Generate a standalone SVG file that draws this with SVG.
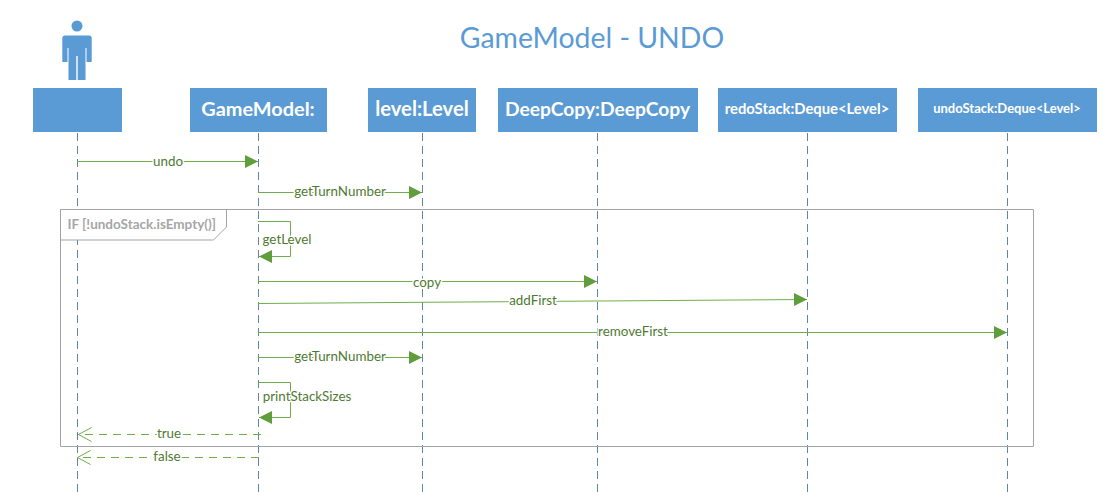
<svg xmlns="http://www.w3.org/2000/svg" width="1115" height="495" viewBox="0 0 1115 495">
<style>
text{font-family:Lato,"Open Sans","Liberation Sans",sans-serif}
.box{fill:#5b9bd5}
.nm{fill:#fff;font-weight:700;text-anchor:middle}
.life{stroke:#5f86a6;stroke-width:1;stroke-dasharray:8 5;fill:none}
.msg{stroke:#70ad47;stroke-width:1;fill:none}
.ret{stroke:#70ad47;stroke-width:1;fill:none;stroke-dasharray:8 6}
.lbl{fill:#4f7a33;font-size:13.4px;text-anchor:middle;paint-order:stroke;stroke:#fff;stroke-width:3px}
.frame{stroke:#a0a4a6;stroke-width:1;fill:none}
</style>
<defs>
<marker id="solid" markerUnits="userSpaceOnUse" markerWidth="13" markerHeight="14" refX="13" refY="7" orient="auto"><path d="M0 0L13 6.500L0 13Z" fill="#5f9e3a" transform="translate(0 .5)"/></marker>
<marker id="open" markerUnits="userSpaceOnUse" markerWidth="15" markerHeight="16" refX="14.500" refY="8" orient="auto"><path d="M1 1L14 8L1 15" fill="none" stroke="#70ad47"/></marker>
</defs>
<rect width="1115" height="495" fill="#fff"/>
<text x="592" y="48" font-size="28.400" fill="#5b9bd5" text-anchor="middle">GameModel - UNDO</text>
<g id="lifelines">
<path class="life" d="M77.500 133V495"/><path class="life" d="M258.500 133V495"/><path class="life" d="M422.500 133V495"/><path class="life" d="M597.500 133V495"/><path class="life" d="M807.500 133V495"/><path class="life" d="M1007.500 133V495"/>
</g>
<g id="frame">
<path class="frame" d="M60.500 209.500H1033.500V446.500H60.500Z"/>
<path d="M60.500 209.500H226.500V227L213.500 240H60.500Z" fill="#fff" stroke="#a0a4a6"/>
<text x="67.500" y="229" font-size="13.500" font-weight="700" fill="#a6a6a6">IF [!undoStack.isEmpty()]</text>
</g>
<g id="actor">
<circle cx="77" cy="26" r="5.500" class="box"/>
<path class="box" d="M65 35.500H89Q91.700 35.500 91.700 38V62H86.500V48H85.500V80H77.700V56H76.300V80H68.500V48H67.500V62H62.300V38Q62.300 35.500 65 35.500Z"/>
<rect class="box" x="33" y="88" width="89" height="44"/>
</g>
<g id="gamemodel"><rect class="box" x="190" y="88" width="137" height="44"/><text class="nm" x="258" y="116" font-size="19.900">GameModel:</text></g>
<g id="level"><rect class="box" x="368" y="88" width="108" height="44"/><text class="nm" x="422" y="116" font-size="20.200">level:Level</text></g>
<g id="deepcopy"><rect class="box" x="498" y="88" width="200" height="44"/><text class="nm" x="597.500" y="116" font-size="19.200">DeepCopy:DeepCopy</text></g>
<g id="redostack"><rect class="box" x="718" y="88" width="179" height="44"/><text class="nm" x="807" y="114" font-size="14.800">redoStack:Deque&lt;Level&gt;</text></g>
<g id="undostack"><rect class="box" x="918" y="88" width="179" height="44"/><text class="nm" x="1007" y="113" font-size="13">undoStack:Deque&lt;Level&gt;</text></g>
<g id="connectors">
<path class="msg" marker-end="url(#solid)" d="M77 161.500H258"/><text class="lbl" x="168" y="166">undo</text>
<path class="msg" marker-end="url(#solid)" d="M258 192.500H422"/><text class="lbl" x="340" y="196">getTurnNumber</text>
<path class="msg" marker-end="url(#solid)" d="M258 221.500H290.500V256.500H259"/><text class="lbl" x="287" y="244">getLevel</text>
<path class="msg" marker-end="url(#solid)" d="M258 281.500H597"/><text class="lbl" x="427" y="287">copy</text>
<path class="msg" marker-end="url(#solid)" d="M258 303.500L807 299.500"/><text class="lbl" x="533" y="305">addFirst</text>
<path class="msg" marker-end="url(#solid)" d="M258 332.500H1007"/><text class="lbl" x="633" y="336">removeFirst</text>
<path class="msg" marker-end="url(#solid)" d="M258 357.500H422"/><text class="lbl" x="340" y="361">getTurnNumber</text>
<path class="msg" marker-end="url(#solid)" d="M258 382.500H290.500V417.500H259"/><text class="lbl" x="307" y="401">printStackSizes</text>
<path class="ret" marker-end="url(#open)" d="M261 434.500H78"/><text class="lbl" x="169" y="438">true</text>
<path class="ret" marker-end="url(#open)" d="M259 457.500H77"/><text class="lbl" x="167" y="461">false</text>
</g>
</svg>
